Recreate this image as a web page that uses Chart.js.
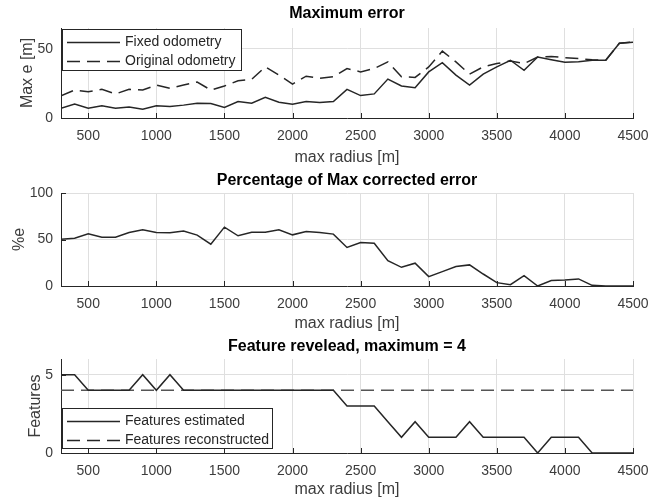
<!DOCTYPE html>
<html>
<head>
<meta charset="utf-8">
<script src="https://cdn.jsdelivr.net/npm/chart.js@4.4.1/dist/chart.umd.min.js"></script>
<style>
  body { margin: 0; background: #fff; width: 661px; height: 500px; position: relative; overflow: hidden; }
  canvas { position: absolute; left: 0; }
</style>
</head>
<body>
<canvas id="errChart" width="661" height="170" style="top:0px"></canvas>
<canvas id="pctChart" width="661" height="166" style="top:170px"></canvas>
<canvas id="featChart" width="661" height="164" style="top:336px"></canvas>
<script>
// --- Data ---
const radius = [300, 400, 500, 600, 700, 800, 900, 1000, 1100, 1200, 1300, 1400, 1500, 1600, 1700,
    1800, 1900, 2000, 2100, 2200, 2300, 2400, 2500, 2600, 2700, 2800, 2900, 3000, 3100, 3200,
    3300, 3400, 3500, 3600, 3700, 3800, 3900, 4000, 4100, 4200, 4300, 4400, 4500];

const fixedOdometry = [7.1, 10, 7, 8.8, 7, 7.9, 6.4, 8.8, 8.3, 9.3, 10.7, 10.5, 7.6, 11.9, 10.7,
    15, 11.4, 10, 11.9, 11.2, 11.9, 20.7, 16.2, 17.4, 28.1, 23.1, 21.9, 33.3, 40, 31,
    23.8, 31.7, 36.9, 41.7, 34.5, 44, 42.1, 40.2, 40.7, 41.7, 41.7, 54, 54.8];

const originalOdometry = [16, 20.2, 19, 20.7, 17.4, 20.7, 20.2, 23.8, 21.4, 23.8, 26, 20.2, 23.1, 26.9, 27.9,
    36.9, 31, 24.5, 30.2, 28.6, 29.8, 35.7, 33.3, 35.7, 40.5, 29.8, 29.3, 36.9, 48.3, 40.5,
    31.7, 36.9, 39.3, 41.2, 39.3, 44, 44.5, 43.6, 42.9, 42.1, 41.7, 54, 54.8];

const pctCorrected = [50.4, 51.4, 56.1, 52.5, 52.5, 57.6, 60.4, 57.6, 57.2, 59, 54.7, 45, 63.3, 54, 57.9,
    57.9, 60.4, 55, 58.6, 57.6, 55.8, 41.4, 46.8, 46, 27.3, 20.1, 24.5, 10.1, 15.5, 20.9,
    22.7, 12.9, 3.6, 1.4, 11.2, 0, 5.8, 6.5, 7.6, 0.7, 0, 0, 0];

const featEstimated = [5, 5, 4, 4, 4, 4, 5, 4, 5, 4, 4, 4, 4, 4, 4,
    4, 4, 4, 4, 4, 4, 3, 3, 3, 2, 1, 2, 1, 1, 1,
    2, 1, 1, 1, 1, 0, 1, 1, 1, 0, 0, 0, 0];

const featReconstructed = [4, 4, 4, 4, 4, 4, 4, 4, 4, 4, 4, 4, 4, 4, 4,
    4, 4, 4, 4, 4, 4, 4, 4, 4, 4, 4, 4, 4, 4, 4,
    4, 4, 4, 4, 4, 4, 4, 4, 4, 4, 4, 4, 4];

const xTicks = [500, 1000, 1500, 2000, 2500, 3000, 3500, 4000, 4500];
const errTicks = [0, 50];
const pctTicks = [0, 50, 100];
const featTicks = [0, 5];

// --- Style ---
const FONT = '"Liberation Sans", Arial, Helvetica, sans-serif';
const INK = '#262626';
const TXT = '#3c3c3c';
const GRID = '#dfdfdf';
const DASH = [13, 7];
const LW = 1.5;

Chart.defaults.font.family = FONT;

function pts(ys) {
    return radius.map((x, i) => ({ x: x, y: ys[i] }));
}

// draws titles, axis labels, inward ticks and a boxed legend, MATLAB style
function decorPlugin(cfg) {
    return {
        id: 'decor',
        afterDraw(chart) {
            const ctx = chart.ctx;
            const a = chart.chartArea;
            const xs = chart.scales.x, ys = chart.scales.y;
            ctx.save();

            // inward tick marks
            ctx.strokeStyle = INK;
            ctx.lineWidth = 1;
            ctx.beginPath();
            xTicks.forEach(v => {
                const px = Math.round(xs.getPixelForValue(v)) + 0.5;
                ctx.moveTo(px, a.bottom);
                ctx.lineTo(px, a.bottom - 5);
            });
            cfg.yTicks.forEach(v => {
                const py = Math.round(ys.getPixelForValue(v)) + 0.5;
                ctx.moveTo(a.left, py);
                ctx.lineTo(a.left + 5, py);
            });
            ctx.stroke();

            // title
            ctx.fillStyle = '#000';
            ctx.font = 'bold 16px ' + FONT;
            ctx.textAlign = 'center';
            ctx.textBaseline = 'middle';
            ctx.fillText(cfg.title, (a.left + a.right) / 2, a.top - cfg.titleGap);

            // x label
            ctx.fillStyle = TXT;
            ctx.font = '16px ' + FONT;
            ctx.fillText('max radius [m]', (a.left + a.right) / 2, a.bottom + cfg.xLabelGap);

            // y label
            ctx.save();
            ctx.translate(cfg.yLabelX, (a.top + a.bottom) / 2);
            ctx.rotate(-Math.PI / 2);
            ctx.fillText(cfg.yLabel, 0, 0);
            ctx.restore();

            // legend
            if (cfg.legend) {
                const L = cfg.legend;
                const bx = a.left + 1;
                const by = L.atBottom ? a.bottom - 4 - L.h : a.top + 1;
                ctx.fillStyle = '#fff';
                ctx.fillRect(bx, by, L.w, L.h);
                ctx.strokeStyle = INK;
                ctx.lineWidth = 1;
                ctx.strokeRect(bx + 0.5, by + 0.5, L.w - 1, L.h - 1);
                ctx.font = '14px ' + FONT;
                ctx.textAlign = 'left';
                L.items.forEach((it, i) => {
                    const cy = Math.round(by + 12.5 + i * 19) + 0.5;
                    ctx.strokeStyle = INK;
                    ctx.lineWidth = LW;
                    ctx.setLineDash(it.dash ? DASH : []);
                    ctx.beginPath();
                    ctx.moveTo(bx + 5, cy);
                    ctx.lineTo(bx + 58, cy);
                    ctx.stroke();
                    ctx.setLineDash([]);
                    ctx.fillStyle = INK;
                    ctx.fillText(it.label, bx + 63, cy);
                });
            }
            ctx.restore();
        }
    };
}

function makeChart(id, cfg) {
    return new Chart(document.getElementById(id), {
        type: 'line',
        data: { datasets: cfg.datasets },
        options: {
            responsive: false,
            animation: false,
            events: [],
            layout: { padding: { top: cfg.padTop, right: 28, left: 0, bottom: 0 } },
            plugins: { legend: { display: false }, tooltip: { enabled: false }, title: { display: false } },
            elements: { point: { radius: 0 }, line: { tension: 0 } },
            scales: {
                x: {
                    type: 'linear', min: 300, max: 4500,
                    afterBuildTicks: s => { s.ticks = xTicks.map(v => ({ value: v })); },
                    afterFit: s => { s.height = cfg.xAxisH; },
                    grid: { color: GRID, drawTicks: false },
                    border: { display: true, color: INK, width: 1 },
                    ticks: { padding: 10, autoSkip: false, maxRotation: 0, color: TXT,
                        font: { size: 14 }, callback: v => String(v) }
                },
                y: {
                    type: 'linear', min: 0, max: cfg.yMax,
                    afterBuildTicks: s => { s.ticks = cfg.yTicks.map(v => ({ value: v })); },
                    afterFit: s => { s.width = 61; },
                    grid: { color: GRID, drawTicks: false },
                    border: { display: true, color: INK, width: 1 },
                    ticks: { padding: 8, autoSkip: false, color: TXT,
                        font: { size: 14 }, callback: v => String(v) }
                }
            }
        },
        plugins: [decorPlugin(cfg)]
    });
}

// --- Charts ---
makeChart('errChart', {
    title: 'Maximum error', titleGap: 14, xLabelGap: 40, yLabel: 'Max e [m]', yLabelX: 28,
    padTop: 28, xAxisH: 52, yMax: 65, yTicks: errTicks,
    legend: { w: 180, h: 42, items: [{ label: 'Fixed odometry' }, { label: 'Original odometry', dash: true }] },
    datasets: [
        { label: 'Fixed odometry', data: pts(fixedOdometry), borderColor: INK, borderWidth: LW },
        { label: 'Original odometry', data: pts(originalOdometry), borderColor: INK, borderWidth: LW, borderDash: DASH }
    ]
});

makeChart('pctChart', {
    title: 'Percentage of Max corrected error', titleGap: 12.3, xLabelGap: 37.5, yLabel: '%e', yLabelX: 20,
    padTop: 23, xAxisH: 50, yMax: 100, yTicks: pctTicks,
    datasets: [
        { label: 'Percentage', data: pts(pctCorrected), borderColor: INK, borderWidth: LW }
    ]
});

makeChart('featChart', {
    title: 'Feature revelead, maximum = 4', titleGap: 12, xLabelGap: 37, yLabel: 'Features', yLabelX: 35.5,
    padTop: 23, xAxisH: 47, yMax: 6, yTicks: featTicks,
    legend: { w: 211, h: 41, atBottom: true,
        items: [{ label: 'Features estimated' }, { label: 'Features reconstructed', dash: true }] },
    datasets: [
        { label: 'Features estimated', data: pts(featEstimated), borderColor: INK, borderWidth: LW },
        { label: 'Features reconstructed', data: pts(featReconstructed), borderColor: '#555555', borderWidth: LW, borderDash: DASH }
    ]
});
</script>
</body>
</html>
